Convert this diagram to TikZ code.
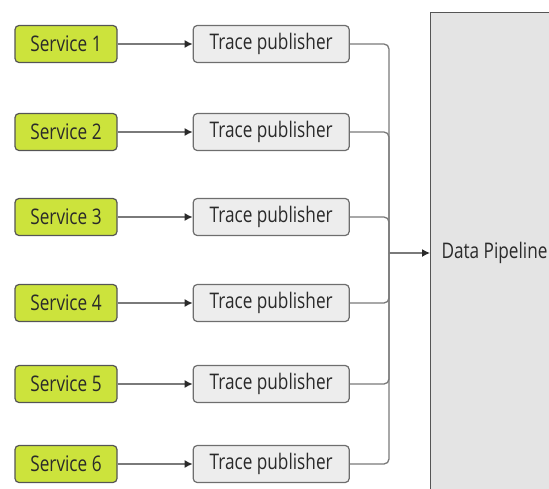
\documentclass[tikz,border=0pt]{standalone}
\usepackage{fontspec}
\setmainfont{Open Sans}[FakeStretch=0.8]
\usetikzlibrary{arrows.meta, positioning}

\definecolor{limefill}{HTML}{CCE33C}
\definecolor{boxline}{HTML}{555555}
\definecolor{pubfill}{HTML}{EDEDED}
\definecolor{pipefill}{HTML}{E4E4E4}
\definecolor{wire}{HTML}{7A7A7A}
\definecolor{txt}{HTML}{2A2A2A}

\begin{document}
\begin{tikzpicture}[
  x=1pt, y=-1pt,
  node distance=0pt and 75pt,
  service/.style={rectangle, rounded corners=4pt, draw=boxline, line width=1.2pt, fill=limefill, text=txt, minimum width=102pt, minimum height=37pt, font=\fontsize{21.5}{24}\selectfont},
  publisher/.style={rectangle, rounded corners=4pt, draw=boxline!85, line width=1.2pt, fill=pubfill, text=txt, minimum width=156pt, minimum height=37pt, font=\fontsize{21.5}{24}\selectfont},
  pipeline/.style={rectangle, draw=boxline, line width=1.4pt, fill=pipefill, minimum width=180pt, minimum height=520pt, anchor=north west},
  arrowstyle/.style={line width=1.3pt, draw=wire, arrows={-{Latex[length=8pt,width=8pt,color=txt]}}},
  busline/.style={line width=1.3pt, draw=wire, rounded corners=5pt}
]

\useasboundingbox (0,0) rectangle (549,488);
\clip (0,0) rectangle (549,488);

% services
\node[service] (S1) at (66,44)  {Service 1};
\node[service] (S2) at (66,132) {Service 2};
\node[service] (S3) at (66,217) {Service 3};
\node[service] (S4) at (66,303) {Service 4};
\node[service] (S5) at (66,384) {Service 5};
\node[service] (S6) at (66,464) {Service 6};

% publishers
\node[publisher, right=of S1] (T1) {Trace publisher};
\node[publisher, right=of S2] (T2) {Trace publisher};
\node[publisher, right=of S3] (T3) {Trace publisher};
\node[publisher, right=of S4] (T4) {Trace publisher};
\node[publisher, right=of S5] (T5) {Trace publisher};
\node[publisher, right=of S6] (T6) {Trace publisher};

% pipeline
\node[pipeline] (DP) at (430,12) {};
\coordinate (bus) at (389,253);
\node[anchor=west, text=txt, font=\fontsize{21.5}{24}\selectfont] (DPlabel) at ([xshift=8pt]DP.west |- bus) {Data Pipeline};

\draw[arrowstyle] (S1) -- (T1);
\draw[arrowstyle] (S2) -- (T2);
\draw[arrowstyle] (S3) -- (T3);
\draw[arrowstyle] (S4) -- (T4);
\draw[arrowstyle] (S5) -- (T5);
\draw[arrowstyle] (S6) -- (T6);

\draw[busline] (T1.east) -| (bus);
\draw[busline] (T2.east) -| (bus);
\draw[busline] (T3.east) -| (bus);
\draw[busline] (T4.east) -| (bus);
\draw[busline] (T5.east) -| (bus);
\draw[busline] (T6.east) -| (bus);

\draw[arrowstyle] (bus) -- (DP.west |- bus);

\end{tikzpicture}
\end{document}
